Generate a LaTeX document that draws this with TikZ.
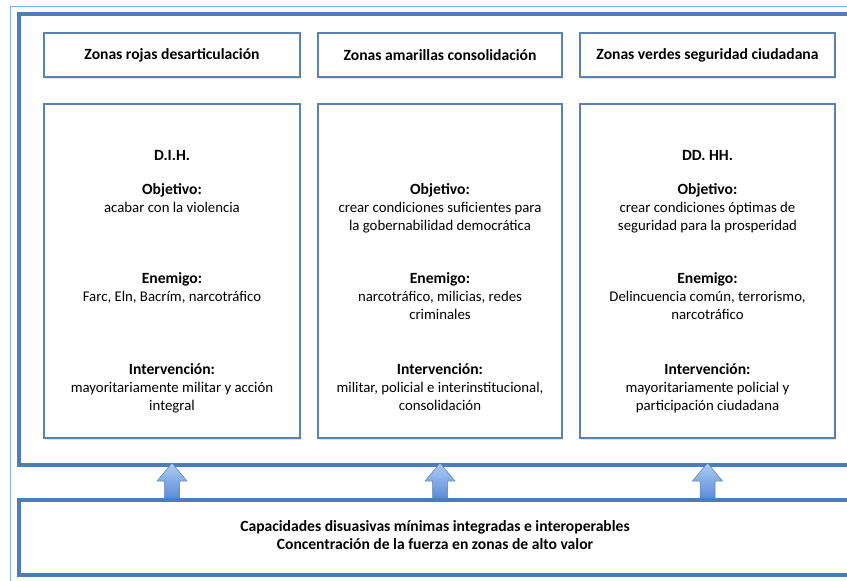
\documentclass[tikz,border=0pt]{standalone}
\usepackage{fontspec}
\setmainfont{Carlito}
\usetikzlibrary{shadows}

\definecolor{frameblue}{HTML}{4A7EBB}
\definecolor{edgeblue}{HTML}{5B80B2}
\definecolor{paleblue}{HTML}{7FAEE6}
\definecolor{arrowtop}{HTML}{AECBF2}
\definecolor{arrowbot}{HTML}{5A8ED8}

\newcommand\lbl[1]{{\fontsize{15.6}{18}\selectfont\bfseries #1}}

\tikzset{
  boxshadow/.style={drop shadow={opacity=0.22, shadow xshift=1.2pt, shadow yshift=-1.5pt}},
  zonebox/.style={draw=edgeblue, line width=1.3pt, fill=white, boxshadow, inner sep=0pt},
  bigframe/.style={draw=frameblue, line width=4pt, fill=white, boxshadow, inner sep=0pt},
  zonetext/.style={align=center, anchor=north, inner sep=0pt,
    font=\fontsize{14.8}{18}\selectfont},
  hdrtext/.style={font=\fontsize{15.6}{18}\selectfont\bfseries},
  uparrow/.pic={
    \shade[top color=arrowtop, bottom color=arrowbot, draw=edgeblue, line width=0.5pt]
      (-7.5,0) -- (-7.5,-17) -- (-15,-17) -- (0,-35) -- (15,-17) -- (7.5,-17) -- (7.5,0) -- cycle;
  }
}

\begin{document}
\begin{tikzpicture}[x=1pt, y=-1pt]
\clip (0,0) rectangle (847,581);
\fill[white] (0,0) rectangle (847,581);

% outer light frame
\draw[paleblue, line width=0.6pt, double=white, double distance=0.7pt] (11,7) rectangle (870,600);

% the two big containers
\node[bigframe, minimum width=832pt, minimum height=451pt] (zonas) at (435,239.5) {};
\node[bigframe, minimum width=832pt, minimum height=75pt] (fuerza) at (435,537.5) {};

\def\hdrH{44pt}
\def\boxH{334pt}

% --- Zonas rojas ---
\begin{scope}[shift={(172,0)}]
  \node[zonebox, hdrtext, minimum width=256pt, minimum height=\hdrH]
    (hdrRojas) at (0,55) {Zonas rojas desarticulación};
  \node[zonebox, minimum width=256pt, minimum height=\boxH] (boxRojas) at (0,271) {};
  \node[zonetext] (titRojas) at (0,150) {\lbl{D.I.H.}};
  \node[zonetext] (objRojas) at (0,183) {\lbl{Objetivo:}\\acabar con la violencia};
  \node[zonetext] (eneRojas) at (0,272) {\lbl{Enemigo:}\\Farc, Eln, Bacrím, narcotráfico};
  \node[zonetext] (intRojas) at (0,363) {\lbl{Intervención:}\\mayoritariamente militar y acción\\integral};
\end{scope}

% --- Zonas amarillas ---
\begin{scope}[shift={(440,0)}]
  \node[zonebox, hdrtext, minimum width=244pt, minimum height=\hdrH]
    (hdrAmarillas) at (0,55) {Zonas amarillas consolidación};
  \node[zonebox, minimum width=244pt, minimum height=\boxH] (boxAmarillas) at (0,271) {};
  \node[zonetext] (objAmarillas) at (0,183) {\lbl{Objetivo:}\\crear condiciones suficientes para\\la gobernabilidad democrática};
  \node[zonetext] (eneAmarillas) at (0,272) {\lbl{Enemigo:}\\narcotráfico, milicias, redes\\criminales};
  \node[zonetext] (intAmarillas) at (0,363) {\lbl{Intervención:}\\militar, policial e interinstitucional,\\consolidación};
\end{scope}

% --- Zonas verdes ---
\begin{scope}[shift={(707.5,0)}]
  \node[zonebox, hdrtext, minimum width=255pt, minimum height=\hdrH]
    (hdrVerdes) at (0,55) {Zonas verdes seguridad ciudadana};
  \node[zonebox, minimum width=255pt, minimum height=\boxH] (boxVerdes) at (0,271) {};
  \node[zonetext] (titVerdes) at (0,150) {\lbl{DD. HH.}};
  \node[zonetext] (objVerdes) at (0,183) {\lbl{Objetivo:}\\crear condiciones óptimas de\\seguridad para la prosperidad};
  \node[zonetext] (eneVerdes) at (0,272) {\lbl{Enemigo:}\\Delincuencia común, terrorismo,\\narcotráfico};
  \node[zonetext] (intVerdes) at (0,363) {\lbl{Intervención:}\\mayoritariamente policial y\\participación ciudadana};
\end{scope}

% base capacities
\node[zonetext, hdrtext] (txtFuerza) at (435,520)
  {Capacidades disuasivas mínimas integradas e interoperables\\Concentración de la fuerza en zonas de alto valor};

% arrows from the base up into the zones
\foreach \col in {Rojas,Amarillas,Verdes}
  \pic at (fuerza.north -| box\col) {uparrow};
\end{tikzpicture}
\end{document}
